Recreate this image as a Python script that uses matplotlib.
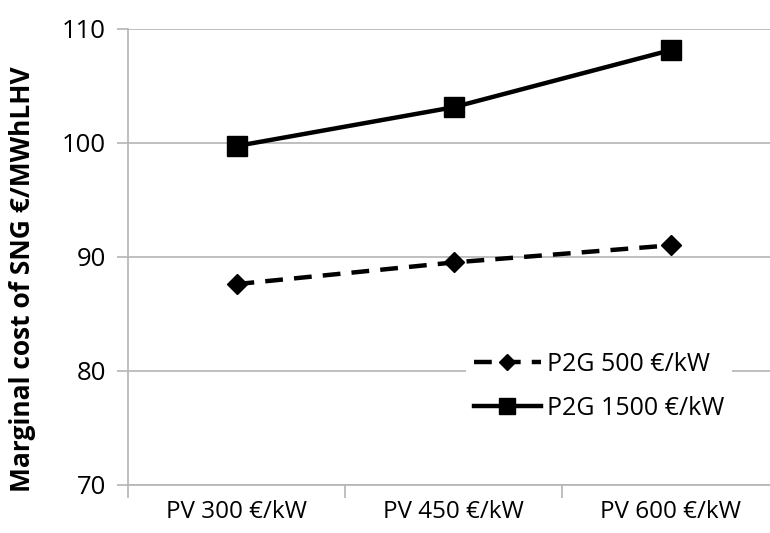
import matplotlib
matplotlib.use("Agg")
import matplotlib.pyplot as plt
import numpy as np

# data
categories = ["PV 300 €/kW", "PV 450 €/kW", "PV 600 €/kW"]
p2g_500 = [87.6, 89.5, 91.0]
p2g_1500 = [99.7, 103.1, 108.1]
series_labels = ["P2G 500 €/kW", "P2G 1500 €/kW"]
y_ticks = [70, 80, 90, 100, 110]

plt.rcParams['font.family'] = ['Open Sans', 'DejaVu Sans']

fig = plt.figure(figsize=(7.7, 5.33), dpi=100)
ax = fig.add_axes([128 / 770, 48 / 533, 651 / 770, 456.5 / 533])

x = np.arange(len(categories)) + 0.5
ax.plot(x, p2g_500, color='black', lw=3.2, ls=(0, (4, 2.5)),
        marker='D', markersize=10, label=series_labels[0])
ax.plot(x, p2g_1500, color='black', lw=3.2, ls='-',
        marker='s', markersize=14, label=series_labels[1])

ax.set_xlim(0, len(categories))
ax.set_ylim(y_ticks[0], y_ticks[-1])
ax.set_yticks(y_ticks)
ax.set_xticks(x)
ax.set_xticklabels(categories)
ax.set_xticks(np.arange(len(categories) + 1), minor=True)

grid_col = '#b4b4b4'
ax.grid(axis='y', color=grid_col, lw=1.2)
ax.set_axisbelow(True)
for side in ['top', 'right']:
    ax.spines[side].set_visible(False)
for side in ['left', 'bottom']:
    ax.spines[side].set_color(grid_col)
    ax.spines[side].set_linewidth(1.2)

ax.tick_params(axis='y', length=8, color=grid_col, width=1.2, labelsize=18.5, pad=8)
ax.tick_params(axis='x', which='major', length=0, labelsize=17.5, pad=11)
ax.tick_params(axis='x', which='minor', length=9, color=grid_col, width=1.2)

ax.set_ylabel('Marginal cost of SNG €/MWhLHV', fontsize=19, fontweight='bold')
ax.yaxis.set_label_coords(-0.142, 0.45)

leg = ax.legend(loc='upper left', bbox_to_anchor=(0.5, 0.335), frameon=True,
                framealpha=1, edgecolor='none', fontsize=18, handlelength=2.7,
                handletextpad=0.25, labelspacing=0.75, borderpad=0.3, markerscale=0.8)

fig.savefig('out.png', dpi=100)
